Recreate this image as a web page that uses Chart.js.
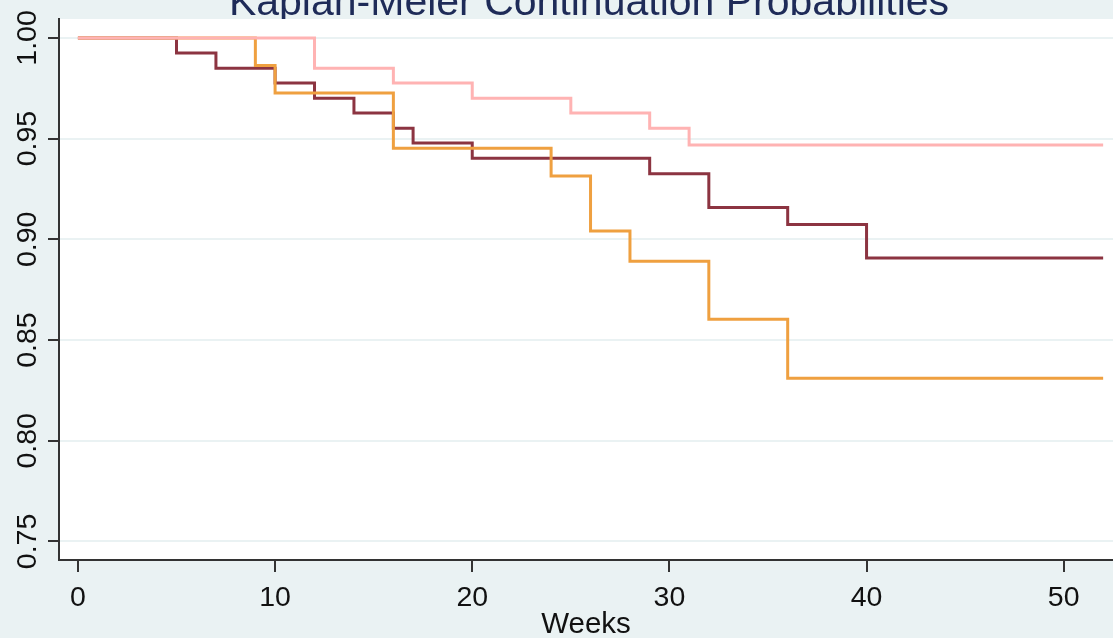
<!DOCTYPE html>
<html>
<head>
<meta charset="utf-8">
<script src="https://cdn.jsdelivr.net/npm/chart.js@4.4.1/dist/chart.umd.min.js"></script>
<style>
    html, body { margin: 0; padding: 0; background: #EAF2F3; }
    #wrap { width: 1113px; height: 638px; }
</style>
</head>
<body>
<div id="wrap"><canvas id="km"></canvas></div>
<script>
// Kaplan-Meier step data
const weeksA = [0, 5, 7, 10, 12, 14, 16, 17, 20, 29, 32, 36, 40, 52];
const survA = [1, 0.9925, 0.985, 0.9776, 0.9701, 0.9627, 0.9552, 0.9478, 0.9403, 0.9326, 0.9158, 0.9074, 0.8907, 0.8907];

const weeksB = [0, 9, 10, 16, 24, 26, 28, 32, 36, 52];
const survB = [1, 0.9863, 0.9726, 0.9452, 0.9314, 0.9041, 0.8891, 0.8603, 0.8310, 0.8310];

const weeksC = [0, 12, 16, 20, 25, 29, 31, 52];
const survC = [1, 0.985, 0.9776, 0.9701, 0.9627, 0.9552, 0.9469, 0.9469];

const xTicks = [0, 10, 20, 30, 40, 50];
const yTicks = [0.75, 0.80, 0.85, 0.90, 0.95, 1.00];

const chartTitle = "Kaplan-Meier Continuation Probabilities";
const xTitle = "Weeks";

const BG = "#EAF2F3";
const AXIS = "#333333";
const FONT = "'Liberation Sans', Arial, sans-serif";

function toPoints(xs, ys) {
    return xs.map((x, i) => ({ x: x, y: ys[i] }));
}

// background, title (cut off at top) and white plot region
const backdrop = {
    id: "backdrop",
    beforeDraw(chart) {
        const { ctx, chartArea } = chart;
        ctx.save();
        ctx.fillStyle = BG;
        ctx.fillRect(0, 0, chart.width, chart.height);
        ctx.fillStyle = "#1E2B58";
        ctx.font = "41px " + FONT;
        ctx.textAlign = "center";
        ctx.textBaseline = "alphabetic";
        ctx.fillText(chartTitle, 589, 15);
        ctx.fillStyle = "#ffffff";
        ctx.fillRect(chartArea.left, chartArea.top, chartArea.right - chartArea.left, chartArea.bottom - chartArea.top);
        ctx.restore();
    }
};

// rotated y tick labels, like Stata draws them
const yLabels = {
    id: "yLabels",
    afterDraw(chart) {
        const { ctx } = chart;
        const y = chart.scales.y;
        ctx.save();
        ctx.fillStyle = "#111111";
        ctx.font = "28.5px " + FONT;
        ctx.textAlign = "center";
        ctx.textBaseline = "alphabetic";
        yTicks.forEach(v => {
            ctx.save();
            ctx.translate(36, y.getPixelForValue(v));
            ctx.rotate(-Math.PI / 2);
            ctx.fillText(v.toFixed(2), 0, 0);
            ctx.restore();
        });
        ctx.restore();
    }
};

const ctx = document.getElementById("km").getContext("2d");
new Chart(ctx, {
    type: "line",
    data: {
        datasets: [
            {
                label: "Group 1",
                data: toPoints(weeksA, survA),
                borderColor: "#8C3441",
                order: 2
            },
            {
                label: "Group 2",
                data: toPoints(weeksB, survB),
                borderColor: "#EFA040",
                order: 1
            },
            {
                label: "Group 3",
                data: toPoints(weeksC, survC),
                borderColor: "#FFB3B3",
                order: 0
            }
        ]
    },
    options: {
        responsive: true,
        maintainAspectRatio: false,
        animation: false,
        layout: { padding: { top: 19, right: 0, bottom: 0, left: 0 } },
        elements: {
            line: { borderWidth: 3, stepped: true, fill: false, tension: 0 },
            point: { radius: 0 }
        },
        plugins: {
            legend: { display: false },
            tooltip: { enabled: false }
        },
        scales: {
            x: {
                type: "linear",
                min: -0.96,
                max: 52.5,
                afterBuildTicks: s => { s.ticks = xTicks.map(v => ({ value: v })); },
                afterFit: s => { s.height = 78; },
                grid: {
                    drawOnChartArea: false,
                    drawTicks: true,
                    tickLength: 12,
                    tickColor: AXIS,
                    lineWidth: 2
                },
                border: { display: true, color: AXIS, width: 2 },
                ticks: {
                    color: "#111111",
                    font: { family: FONT, size: 28.5 },
                    padding: 9,
                    maxRotation: 0,
                    autoSkip: false
                },
                title: {
                    display: true,
                    text: xTitle,
                    color: "#111111",
                    font: { family: FONT, size: 29.5, lineHeight: 1 },
                    padding: { top: 0, bottom: -2 }
                }
            },
            y: {
                type: "linear",
                min: 0.7408,
                max: 1.0094,
                afterBuildTicks: s => { s.ticks = yTicks.map(v => ({ value: v })); },
                afterFit: s => { s.width = 59; },
                grid: {
                    color: BG,
                    lineWidth: 2,
                    drawTicks: true,
                    tickLength: 11,
                    tickColor: AXIS
                },
                border: { display: true, color: AXIS, width: 2 },
                ticks: { display: false }
            }
        }
    },
    plugins: [backdrop, yLabels]
});
</script>
</body>
</html>
